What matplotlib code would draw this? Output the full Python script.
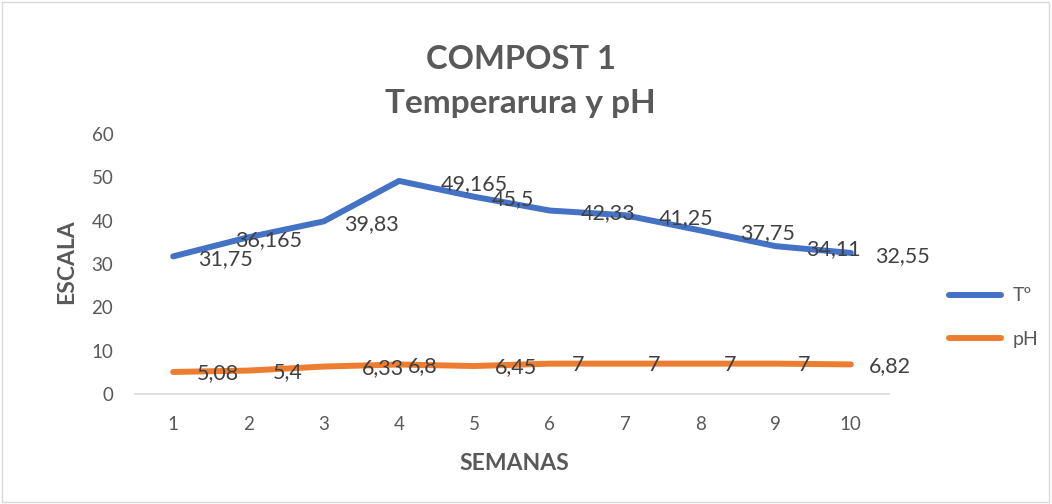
import matplotlib.pyplot as plt
from matplotlib.patches import Rectangle

# data
semanas = [1, 2, 3, 4, 5, 6, 7, 8, 9, 10]
temperatura = [31.75, 36.165, 39.83, 49.165, 45.5, 42.33, 41.25, 37.75, 34.11, 32.55]
ph = [5.08, 5.4, 6.33, 6.8, 6.45, 7, 7, 7, 7, 6.82]
yticks = [0, 10, 20, 30, 40, 50, 60]

# horizontal label offsets (pixels) – the Excel labels were dragged about a bit
temp_dx = [52, 20, 48, 75, 39, 58, 61, 67, 58, 52]
ph_dx = [45, 39, 59, 24, 42, 28, 29, 30, 29, 39]

BLUE = '#4472C4'
ORANGE = '#ED7D31'
GREY = '#595959'
LABEL = '#404040'

plt.rcParams['font.family'] = ['Lato', 'DejaVu Sans']

fig = plt.figure(figsize=(10.52, 5.04), dpi=100)
fig.patches.append(Rectangle((0.002, 0.004), 0.995, 0.992, transform=fig.transFigure,
                             fill=False, edgecolor='#D9D9D9', linewidth=1))

ax = fig.add_axes([0.1288, 0.2183, 0.7158, 0.5159])

ax.plot(semanas, temperatura, color=BLUE, linewidth=4.3, solid_capstyle='round',
        solid_joinstyle='round', label='Tº')
ax.plot(semanas, ph, color=ORANGE, linewidth=4.3, solid_capstyle='round',
        solid_joinstyle='round', label='pH')


def fmt(v):
    s = ('%.3f' % v).rstrip('0').rstrip('.')
    return s.replace('.', ',')


for x, y, dx in zip(semanas, temperatura, temp_dx):
    ax.annotate(fmt(y), (x, y), xytext=(dx * 0.72, -2), textcoords='offset points',
                ha='center', va='center', fontsize=15.5, color=LABEL)
for x, y, dx in zip(semanas, ph, ph_dx):
    ax.annotate(fmt(y), (x, y), xytext=(dx * 0.72, -1), textcoords='offset points',
                ha='center', va='center', fontsize=15.5, color=LABEL)

ax.set_xlim(0.5, 10.5)
ax.set_ylim(0, 60)
ax.set_xticks(semanas)
ax.set_yticks(yticks)
ax.tick_params(length=0, labelsize=13.5, labelcolor=GREY)
ax.tick_params(axis='y', pad=16)
ax.tick_params(axis='x', pad=16)
for side in ['top', 'right', 'left']:
    ax.spines[side].set_visible(False)
ax.spines['bottom'].set_color('#D9D9D9')
ax.spines['bottom'].set_linewidth(1.2)

fig.text(0.495, 0.881, 'COMPOST 1', ha='center', va='center', fontsize=23.5,
         fontweight='bold', color=GREY)
fig.text(0.495, 0.794, 'Temperarura y pH', ha='center', va='center', fontsize=24,
         fontweight='bold', color=GREY)
fig.text(0.063, 0.48, 'ESCALA', rotation=90, ha='center', va='center', fontsize=16.5,
         fontweight='bold', color=GREY)
fig.text(0.489, 0.081, 'SEMANAS', ha='center', va='center', fontsize=16.5,
         fontweight='bold', color=GREY)

leg = fig.legend(loc='center left', bbox_to_anchor=(0.885, 0.37), frameon=False,
                 fontsize=14, handlelength=2.7, labelspacing=1.35, handletextpad=0.6)
for t in leg.get_texts():
    t.set_color(GREY)

fig.savefig('out.png', dpi=100)
